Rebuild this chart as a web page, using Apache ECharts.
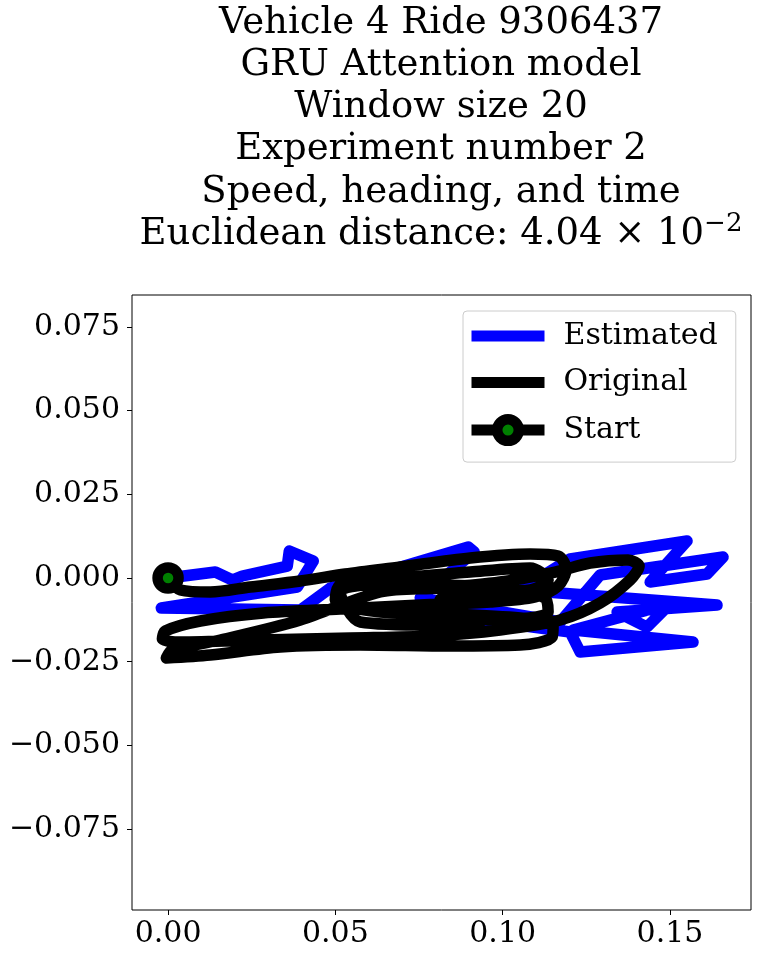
<!DOCTYPE html>
<html>
<head>
<meta charset="utf-8">
<script src="https://cdn.jsdelivr.net/npm/echarts@6/dist/echarts.min.js"></script>
<style>
html,body{margin:0;padding:0;background:#fff;}
#chart{width:758px;height:957px;}
</style>
</head>
<body>
<div id="chart"></div>
<script>
// ---- data ----
const titleLines = [
  'Vehicle 4 Ride 9306437',
  'GRU Attention model',
  'Window size 20',
  'Experiment number 2',
  'Speed, heading, and time'
];
const distanceText = 'Euclidean distance: 4.04 \u00d7 10';
const distanceExp = '\u22122';

const seriesNames = ['Estimated', 'Original', 'Start'];

const estimatedX = [0, 0.01413, 0.01921, 0.02219, 0.03563, 0.03623, 0.04340, 0.03862, -0.00200, 0.03952,
  0.04848, 0.08970, 0.09149, 0.07536, 0.11718, 0.12912, 0.16587, 0.16108, 0.14406, 0.15511,
  0.12016, 0.10523, 0.16407, 0.13420, 0.14316, 0.15003, 0.12106, 0.15690, 0.12315, 0.12016, 0.09328];
const estimatedY = [0, 0.00179, -0.00060, 0.00060, 0.00358, 0.00806, 0.00508, -0.00269, -0.00896, -0.00956,
  -0.00299, 0.00926, 0.00777, -0.00597, -0.01314, 0.00090, 0.00627, 0.00119, -0.00119, 0.01105,
  0.00568, -0.00358, -0.00806, -0.01016, -0.01464, -0.00777, -0.01553, -0.01912, -0.02210, -0.01613, -0.01254];

const originalX = [0, 0.00367, 0.01263, 0.02458, 0.03952, 0.05296, 0.06939, 0.09029, 0.10821, 0.11658,
  0.11897, 0.11658, 0.10971, 0.09627, 0.07536, 0.05146, 0.02846, 0.00965, -0.00081, -0.00170,
  0.00367, 0.02757, 0.05445, 0.07835, 0.09925, 0.11718, 0.12912, 0.13808, 0.14077, 0.13749,
  0.12614, 0.11568, 0.09925, 0.08133, 0.06341, 0.03952, 0.01562, 0.00128, -0.00051, 0.01263,
  0.03354, 0.05744, 0.08432, 0.10523, 0.11479, 0.11508, 0.10523, 0.08432, 0.06341, 0.04997,
  0.05146, 0.06939, 0.09029, 0.10821, 0.11359, 0.10821, 0.09327, 0.08133, 0.08342, 0.09925,
  0.11359, 0.11270, 0.09925, 0.07835, 0.06043, 0.05146, 0.05744, 0.07835, 0.09328];
const originalY = [0, -0.00358, -0.00418, -0.00269, -0.00090, 0.00119, 0.00329, 0.00597, 0.00717, 0.00657,
  0.00269, -0.00239, -0.00567, -0.00717, -0.00806, -0.00926, -0.01045, -0.01284, -0.01583, -0.01822,
  -0.01912, -0.01852, -0.01792, -0.01732, -0.01553, -0.01254, -0.00747, -0.00060, 0.00358, 0.00538,
  0.00448, 0.00179, -0.00119, -0.00299, -0.00418, -0.01254, -0.01852, -0.02150, -0.02389, -0.02300,
  -0.02061, -0.02001, -0.02031, -0.02001, -0.01762, -0.01374, -0.01195, -0.01075, -0.01015, -0.00657,
  -0.00209, -0.00000, 0.00179, 0.00299, -0.00060, -0.00358, -0.00418, -0.00657, -0.01045, -0.01254,
  -0.01016, -0.00597, -0.00299, -0.00209, -0.00209, -0.00418, -0.01314, -0.01404, -0.01314];

const startPoint = [0, 0];

const xTicks = [0, 0.05, 0.10, 0.15];
const yTicks = [-0.075, -0.05, -0.025, 0, 0.025, 0.05, 0.075];
const xRange = [-0.01078, 0.17422];
const yRange = [-0.09916, 0.08453];

// ---- chart ----
const FONT = 'DejaVu Serif';
const pair = (xs, ys) => xs.map((x, i) => [x, ys[i]]);
const fmt = (v, d) => (v < 0 ? '\u2212' : '') + Math.abs(v).toFixed(d);

const chart = echarts.init(document.getElementById('chart'), null, {renderer: 'canvas'});
chart.setOption({
  animation: false,
  backgroundColor: '#ffffff',
  title: {
    text: titleLines.join('\n') + '\n' + distanceText + '{sup|' + distanceExp + '}',
    left: 441,
    top: 2,
    textAlign: 'center',
    padding: 0,
    textStyle: {
      fontFamily: FONT, fontSize: 37, fontWeight: 'normal', color: '#000', lineHeight: 42.2,
      rich: {
        sup: {fontFamily: FONT, fontSize: 26, color: '#000', lineHeight: 42.2, padding: [0, 0, 20, 0]}
      }
    }
  },
  grid: {
    left: 132, top: 295, width: 619, height: 615,
    show: true, borderColor: '#000', borderWidth: 1, backgroundColor: 'transparent',
    containLabel: false
  },
  xAxis: {
    type: 'value', min: xRange[0], max: xRange[1],
    splitLine: {show: false},
    axisLine: {show: false, onZero: false},
    axisTick: {show: true, inside: false, length: 5, lineStyle: {color: '#000', width: 1}, customValues: xTicks},
    axisLabel: {show: true, margin: 9, fontFamily: FONT, fontSize: 30, color: '#000',
      customValues: xTicks, formatter: v => fmt(v, 2)}
  },
  yAxis: {
    type: 'value', min: yRange[0], max: yRange[1],
    splitLine: {show: false},
    axisLine: {show: false, onZero: false},
    axisTick: {show: true, inside: false, length: 5, lineStyle: {color: '#000', width: 1}, customValues: yTicks},
    axisLabel: {show: true, margin: 12, fontFamily: FONT, fontSize: 30, color: '#000',
      customValues: yTicks, formatter: v => fmt(v, 3)}
  },
  legend: {
    orient: 'vertical',
    left: 463, top: 311,
    itemWidth: 73, itemHeight: 27, itemGap: 16.5,
    padding: [10, 18, 16, 3],
    backgroundColor: 'rgba(255,255,255,0.8)',
    borderColor: '#cccccc', borderWidth: 1, borderRadius: 4,
    selectedMode: false,
    lineStyle: {width: 11, cap: 'butt'},
    textStyle: {fontFamily: FONT, fontSize: 30, color: '#000', lineHeight: 30, padding: [0, 0, 0, 14]},
    data: [
      {name: seriesNames[0], itemStyle: {opacity: 0}},
      {name: seriesNames[1], itemStyle: {opacity: 0}},
      {name: seriesNames[2], itemStyle: {color: '#008000', borderColor: '#000', borderWidth: 10.5}}
    ]
  },
  series: [
    {
      name: seriesNames[0], type: 'line', data: pair(estimatedX, estimatedY),
      symbol: 'none', showSymbol: false, z: 2,
      lineStyle: {color: '#0000ff', width: 11.5, cap: 'square', join: 'round'},
      itemStyle: {color: '#0000ff'},
      emphasis: {disabled: true}
    },
    {
      name: seriesNames[1], type: 'line', data: pair(originalX, originalY),
      symbol: 'none', showSymbol: false, smooth: 0.3, z: 3,
      lineStyle: {color: '#000000', width: 11.5, cap: 'round', join: 'round'},
      itemStyle: {color: '#000000'},
      emphasis: {disabled: true}
    },
    {
      name: seriesNames[2], type: 'line', data: [startPoint],
      symbol: 'circle', symbolSize: 21, showSymbol: true, z: 4,
      lineStyle: {color: '#000000', width: 11},
      itemStyle: {color: '#008000', borderColor: '#000000', borderWidth: 10.5},
      emphasis: {disabled: true}
    }
  ]
});
</script>
</body>
</html>
